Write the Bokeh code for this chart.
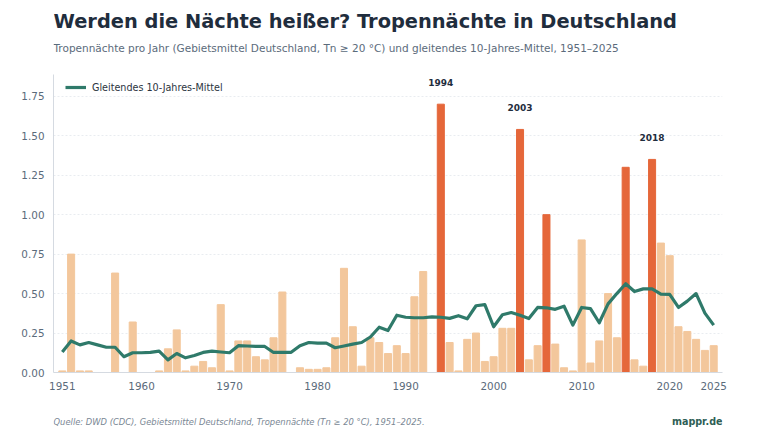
from bokeh.plotting import figure
from bokeh.layouts import column
from bokeh.models import (ColumnDataSource, Range1d, FixedTicker, NumeralTickFormatter,
                          LabelSet, Legend, LegendItem)
from bokeh.core.properties import value
from bokeh.embed import file_html
from bokeh.resources import INLINE

# Tropical nights per year (area mean Germany, Tn >= 20 °C)
years = list(range(1951, 2026))
nights = [
    0.01, 0.75, 0.01, 0.01, 0.00, 0.00, 0.63, 0.00, 0.32, 0.00,   # 1951-1960
    0.00, 0.01, 0.15, 0.27, 0.01, 0.04, 0.07, 0.03, 0.43, 0.01,   # 1961-1970
    0.20, 0.20, 0.10, 0.08, 0.22, 0.51, 0.00, 0.03, 0.02, 0.02,   # 1971-1980
    0.03, 0.22, 0.66, 0.29, 0.04, 0.22, 0.19, 0.12, 0.17, 0.12,   # 1981-1990
    0.48, 0.64, 0.00, 1.70, 0.19, 0.01, 0.21, 0.25, 0.07, 0.10,   # 1991-2000
    0.28, 0.28, 1.54, 0.08, 0.17, 1.00, 0.18, 0.03, 0.01, 0.84,   # 2001-2010
    0.06, 0.20, 0.50, 0.22, 1.30, 0.08, 0.04, 1.35, 0.82, 0.74,   # 2011-2020
    0.29, 0.26, 0.21, 0.14, 0.17,                                 # 2021-2025
]
# 10-year moving average
trend = [
    0.13, 0.20, 0.175, 0.19, 0.175, 0.16, 0.16, 0.10, 0.125, 0.125,
    0.127, 0.135, 0.08, 0.12, 0.093, 0.108, 0.127, 0.135, 0.13, 0.125,
    0.17, 0.168, 0.165, 0.165, 0.127, 0.128, 0.128, 0.17, 0.19, 0.186,
    0.186, 0.157, 0.168, 0.18, 0.19, 0.225, 0.287, 0.266, 0.363, 0.35,
    0.347, 0.347, 0.352, 0.35, 0.343, 0.36, 0.34, 0.423, 0.43, 0.29,
    0.366, 0.38, 0.363, 0.342, 0.412, 0.41, 0.40, 0.42, 0.30, 0.412,
    0.405, 0.315, 0.435, 0.50, 0.562, 0.513, 0.53, 0.53, 0.497, 0.495,
    0.412, 0.452, 0.50, 0.376, 0.30,
]
x_ticks = [1951, 1960, 1970, 1980, 1990, 2000, 2010, 2020, 2025]
y_ticks = [0.0, 0.25, 0.5, 0.75, 1.0, 1.25, 1.5, 1.75]
labeled_years = [1994, 2003, 2018]
highlight_threshold = 1.0

TITLE = "Werden die Nächte heißer? Tropennächte in Deutschland"
SUBTITLE = ("Tropennächte pro Jahr (Gebietsmittel Deutschland, Tn ≥ 20 °C) und "
            "gleitendes 10-Jahres-Mittel, 1951–2025")
SOURCE = "Quelle: DWD (CDC), Gebietsmittel Deutschland, Tropennächte (Tn ≥ 20 °C), 1951–2025."
BRAND = "mappr.de"

LIGHT = "#f3c79c"
HOT = "#e5673a"
TEAL = "#2f7a6a"
INK = "#1f2d3d"
GREY = "#5b6b7b"
FONT = "DejaVu Sans"
W = 760
BORDER_L, BORDER_R = 53, 38          # shared frame margins of all stacked figures
LEFT, RIGHT = BORDER_L, W - BORDER_R


def text_strip(height):
    """An axis-free strip whose data units are canvas pixels (y grows downwards)."""
    f = figure(width=W, height=height, output_backend="svg", toolbar_location=None,
               x_range=Range1d(LEFT, RIGHT), y_range=Range1d(height, 0),
               x_axis_location=None, y_axis_location=None,
               min_border_left=BORDER_L, min_border_right=BORDER_R,
               min_border_top=0, min_border_bottom=0)
    f.grid.visible = False
    f.outline_line_color = None
    f.border_fill_color = "white"
    f.background_fill_color = "white"
    return f


# header
head = text_strip(74)
head.text(x=[LEFT], y=[21], text=[TITLE], text_font=value(FONT), text_font_size="19.4px",
          text_font_style="bold", text_color=INK, text_baseline="middle")
head.text(x=[LEFT], y=[47], text=[SUBTITLE], text_font=value(FONT), text_font_size="10.5px",
          text_color=GREY, text_baseline="middle")

# main chart
colors = [HOT if v >= highlight_threshold else LIGHT for v in nights]
bars = ColumnDataSource(dict(year=years, nights=nights, color=colors))
line_src = ColumnDataSource(dict(year=years, trend=trend))
lab_vals = [nights[years.index(y)] for y in labeled_years]
labels_src = ColumnDataSource(dict(year=labeled_years, nights=lab_vals,
                                   text=[str(y) for y in labeled_years]))

p = figure(width=W, height=326, output_backend="svg", toolbar_location=None,
           x_range=Range1d(1950.0, 2026.0), y_range=Range1d(0, 1.888),
           min_border_left=BORDER_L, min_border_right=BORDER_R,
           min_border_top=0, min_border_bottom=28)
p.outline_line_color = None
p.background_fill_color = "white"
p.border_fill_color = "white"

p.vbar(x="year", top="nights", width=0.8, color="color", source=bars)
trend_r = p.line("year", "trend", source=line_src, line_color=TEAL, line_width=3.2,
                 line_join="round")

p.add_layout(LabelSet(x="year", y="nights", text="text", source=labels_src,
                      text_align="center", text_baseline="middle", y_offset=22,
                      text_font=value(FONT), text_font_size="9px", text_font_style="bold",
                      text_color=INK))

legend = Legend(items=[LegendItem(label="Gleitendes 10-Jahres-Mittel", renderers=[trend_r])],
                location=(12, 278), background_fill_alpha=0, border_line_color=None,
                label_text_font=FONT, label_text_font_size="9.6px", label_text_color="#2b3440",
                glyph_width=21, glyph_height=14, label_height=14, label_standoff=6,
                margin=0, padding=0)
p.add_layout(legend)

p.xaxis.ticker = FixedTicker(ticks=x_ticks)
p.yaxis.ticker = FixedTicker(ticks=y_ticks)
p.yaxis.formatter = NumeralTickFormatter(format="0.00")
for ax in (p.xaxis, p.yaxis):
    ax.axis_line_color = "#d5dae1"
    ax.major_tick_line_color = None
    ax.minor_tick_line_color = None
    ax.major_label_text_color = GREY
    ax.major_label_text_font = FONT
    ax.major_label_text_font_size = "10.4px"
p.xaxis.major_label_standoff = 3
p.yaxis.major_label_standoff = 3
p.xgrid.grid_line_color = None
p.ygrid.grid_line_color = "#e9ecf0"
p.ygrid.grid_line_dash = "2 2"

# footer
foot = text_strip(43)
foot.text(x=[LEFT], y=[21], text=[SOURCE], text_font=value(FONT), text_font_size="8.4px",
          text_font_style="italic", text_color="#7a8794", text_baseline="middle")
foot.text(x=[RIGHT], y=[21], text=[BRAND], text_font=value(FONT), text_font_size="9.6px",
          text_font_style="bold", text_color="#2e5e55", text_align="right",
          text_baseline="middle")

layout = column(head, p, foot, spacing=0)
open("out.html", "w").write(file_html(layout, INLINE))
